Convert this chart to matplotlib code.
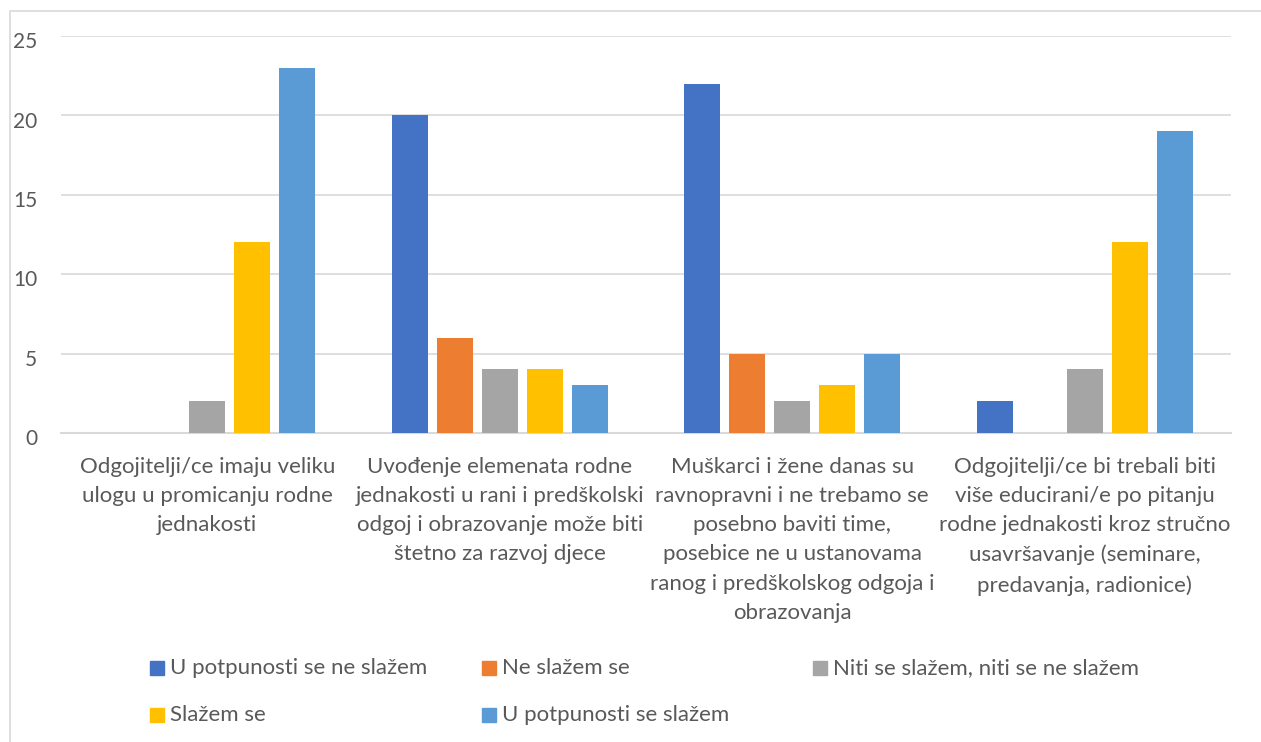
import matplotlib
matplotlib.use("Agg")
import matplotlib.pyplot as plt
import matplotlib.transforms as mtransforms
from matplotlib.patches import Rectangle
import numpy as np

plt.rcParams["font.family"] = ["Lato", "DejaVu Sans"]

categories = [
    "Odgojitelji/ce imaju veliku\nulogu u promicanju rodne\njednakosti",
    "Uvođenje elemenata rodne\njednakosti u rani i predškolski\nodgoj i obrazovanje može biti\nštetno za razvoj djece",
    "Muškarci i žene danas su\nravnopravni i ne trebamo se\nposebno baviti time,\nposebice ne u ustanovama\nranog i predškolskog odgoja i\nobrazovanja",
    "Odgojitelji/ce bi trebali biti\nviše educirani/e po pitanju\nrodne jednakosti kroz stručno\nusavršavanje (seminare,\npredavanja, radionice)",
]
series_names = [
    "U potpunosti se ne slažem",
    "Ne slažem se",
    "Niti se slažem, niti se ne slažem",
    "Slažem se",
    "U potpunosti se slažem",
]
u_potpunosti_ne = [0, 20, 22, 2]
ne_slazem = [0, 6, 5, 0]
niti_niti = [2, 4, 2, 4]
slazem = [12, 4, 3, 12]
u_potpunosti_da = [23, 3, 5, 19]
values = [u_potpunosti_ne, ne_slazem, niti_niti, slazem, u_potpunosti_da]
colors = ["#4472C4", "#ED7D31", "#A5A5A5", "#FFC000", "#5B9BD5"]
yticks = [0, 5, 10, 15, 20, 25]

text_color = "#595959"
grid_color = "#D9D9D9"
W, H = 1261, 742

fig = plt.figure(figsize=(W / 100, H / 100), dpi=100)
ax = fig.add_axes([61 / W, 1 - 433 / H, 1170 / W, 397 / H])

x = np.arange(len(categories))
pitch = 0.154
width = 0.123
for i, (name, vals, col) in enumerate(zip(series_names, values, colors)):
    ax.bar(x + (i - 2) * pitch, vals, width, color=col, label=name, zorder=3)

ax.set_xlim(-0.5, len(categories) - 0.5)
ax.set_ylim(0, 25)
ax.set_yticks(yticks)
ax.set_yticklabels([str(t) for t in yticks], fontsize=15, color=text_color)
ax.yaxis.grid(True, color=grid_color, linewidth=1.2, zorder=0)
ax.set_xticks(x)
ax.set_xticklabels(categories, fontsize=16, color=text_color, linespacing=1.58)
ax.tick_params(axis="both", length=0)
ax.tick_params(axis="y", pad=17)
ax.tick_params(axis="x", pad=17)
for s in ["top", "right", "left"]:
    ax.spines[s].set_visible(False)
ax.spines["bottom"].set_color(grid_color)
ax.spines["bottom"].set_linewidth(1.5)
# y labels sit a little below their gridlines in the original
offset = mtransforms.ScaledTranslation(0, 3 / 72, fig.dpi_scale_trans)
for lbl in ax.get_yticklabels():
    lbl.set_transform(lbl.get_transform() - offset)

# legend laid out as in the original: 3 columns, 2 rows
leg_x = [150, 482, 813, 150, 482]
leg_y = [668, 668, 668, 715, 715]
sq = 14
for name, col, lx, ly in zip(series_names, colors, leg_x, leg_y):
    fig.patches.append(Rectangle((lx / W, 1 - (ly + sq / 2) / H), sq / W, sq / H,
                                 transform=fig.transFigure, color=col))
    fig.text((lx + 20) / W, 1 - ly / H, name, fontsize=16, color=text_color,
             va="center", ha="left")

fig.patches.append(
    Rectangle((10 / W, -0.1), 2.0, 1.1 - 11 / H, transform=fig.transFigure,
              fill=False, edgecolor=grid_color, linewidth=1.2)
)

fig.savefig("out.png", dpi=100, facecolor="white")
